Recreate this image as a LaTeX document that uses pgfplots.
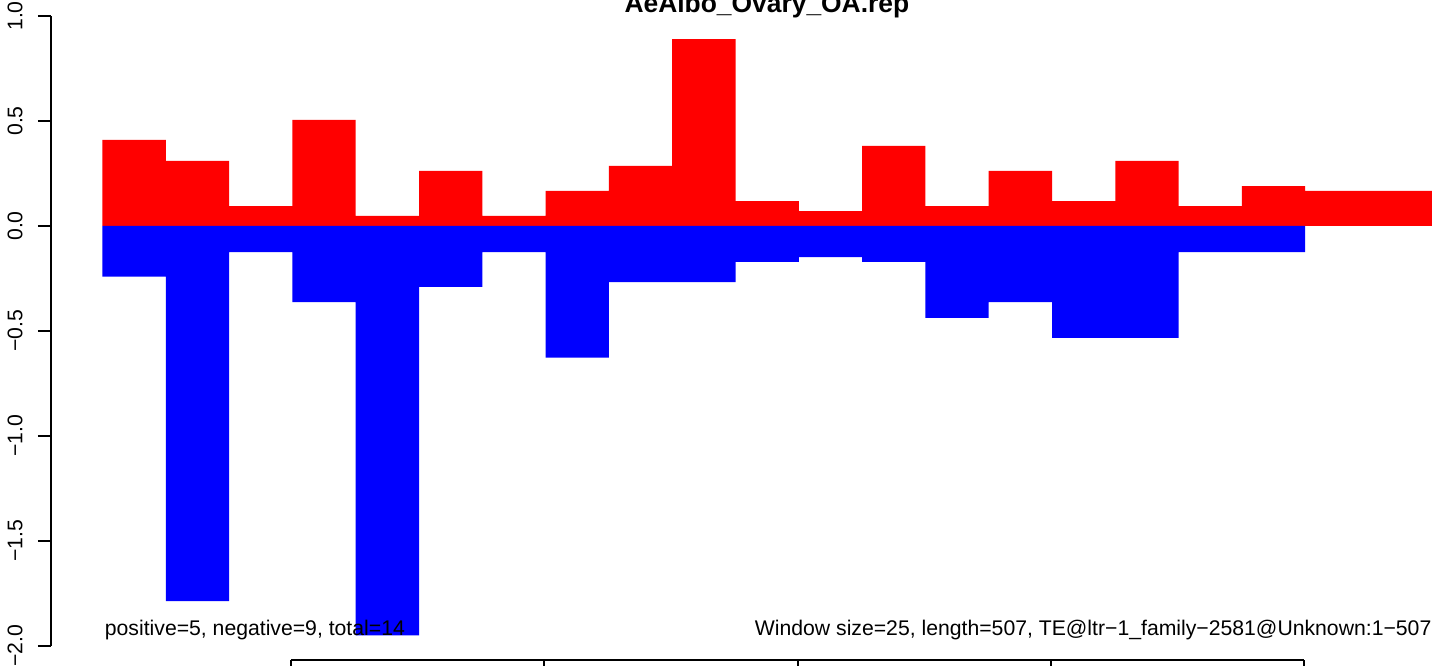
\documentclass[border=0pt]{standalone}
\usepackage{pgfplots}
\pgfplotsset{compat=1.18}
\usepackage{fontspec}
\setmainfont{Liberation Sans}
\begin{document}
\begin{tikzpicture}
\begin{axis}[
  scale only axis, width=695pt, height=315pt,
  xmin=4.66, xmax=553.63, ymin=-2, ymax=1,
  enlargelimits=false, clip=false,
  axis x line=none, axis y line*=left,
  ytick={-2,-1.5,-1,-0.5,0,0.5,1},
  yticklabels={−2.0,−1.5,−1.0,−0.5,0.0,0.5,1.0},
  tick align=outside, major tick length=6.5pt,
  every tick/.style={black, line width=1pt},
  y axis line style={black, line width=1pt},
  yticklabel style={rotate=90, anchor=south, inner sep=0pt, font=\fontsize{10.6}{12}\selectfont},
  yticklabel shift=7.5pt,
]
\addplot[ybar interval, fill=red, draw=none] coordinates {(25,0.41) (50,0.31) (75,0.095) (100,0.505) (125,0.048) (150,0.262) (175,0.048) (200,0.167) (225,0.286) (250,0.89) (275,0.119) (300,0.071) (325,0.381) (350,0.095) (375,0.262) (400,0.119) (425,0.31) (450,0.095) (475,0.19) (500,0.167) (525,0.167) (550,0.167)};
\addplot[ybar interval, fill=blue, draw=none] coordinates {(25,-0.241) (50,-1.786) (75,-0.124) (100,-0.362) (125,-1.95) (150,-0.29) (175,-0.124) (200,-0.627) (225,-0.267) (250,-0.267) (275,-0.171) (300,-0.148) (325,-0.171) (350,-0.438) (375,-0.362) (400,-0.533) (425,-0.533) (450,-0.124) (475,-0.124) (500,-0.124)};
\addplot[black, line width=1pt] coordinates {(99.5,-2.0667) (499.5,-2.0667)};
\addplot[black, only marks, mark=|, mark size=6.5pt, mark options={line width=1pt}] coordinates {(99.5,-2.1286) (199.5,-2.1286) (299.5,-2.1286) (399.5,-2.1286) (499.5,-2.1286)};
\node[anchor=base west, inner sep=0pt, font=\fontsize{10.6}{12}\selectfont] at (axis cs:25.8,-1.948) {positive=5, negative=9, total=14};
\node[anchor=base east, inner sep=0pt, font=\fontsize{10.6}{12}\selectfont] at (axis cs:550,-1.948) {Window size=25, length=507, TE@ltr−1\_family−2581@Unknown:1−507};
\node[anchor=base, inner sep=0pt, font=\bfseries\fontsize{13.2}{15}\selectfont] at (axis cs:287.4,1.0143) {AeAlbo\_Ovary\_OA.rep};
\coordinate (bbA) at (axis cs:-15.48,-2.0952);
\coordinate (bbB) at (axis cs:553.63,1.0762);
\end{axis}
\pgfresetboundingbox
\path[use as bounding box] (bbA) rectangle (bbB);
\end{tikzpicture}
\end{document}
